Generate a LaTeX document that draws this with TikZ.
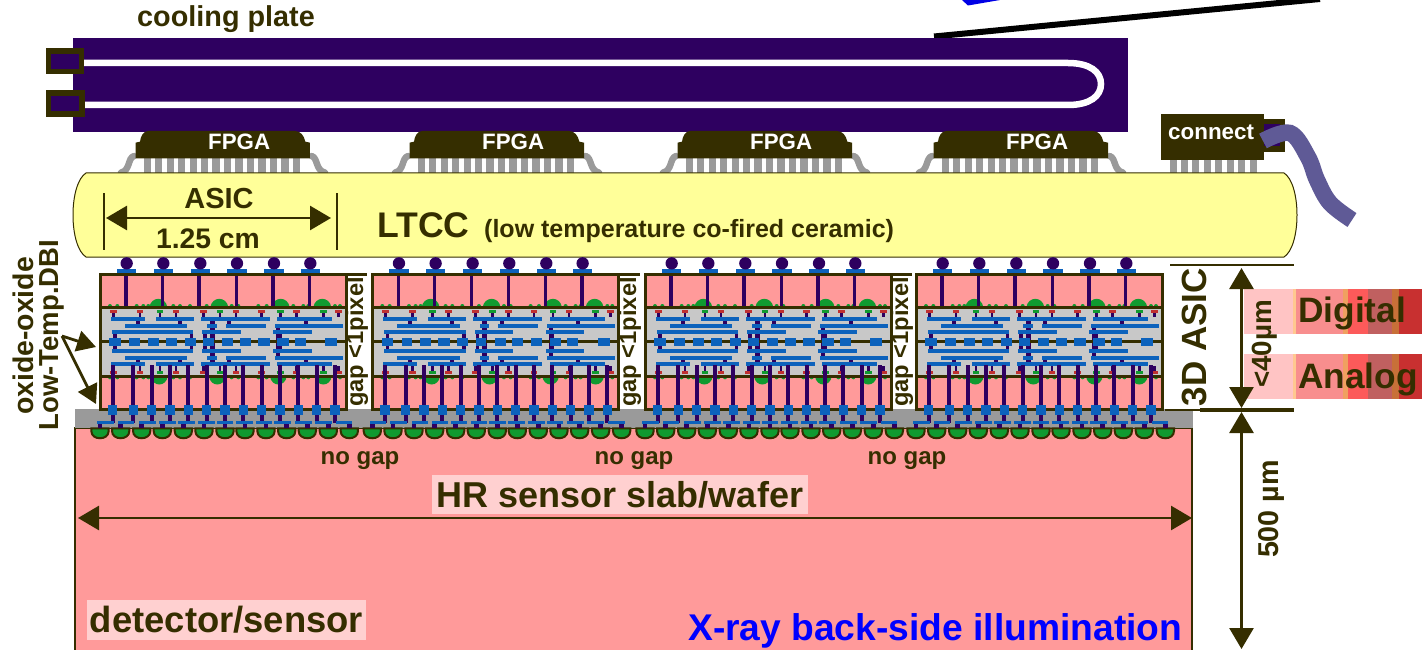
\documentclass[tikz,border=0pt]{standalone}
\usepackage{fontspec}
\setmainfont{Liberation Sans}[BoldFont={Liberation Sans Bold}]
\usetikzlibrary{arrows.meta}
\definecolor{olive}{HTML}{352E00}
\definecolor{plum}{HTML}{2E0060}
\definecolor{metal}{HTML}{0C62BC}
\definecolor{pinkk}{HTML}{FF9A9A}
\definecolor{sil}{HTML}{C8C8C8}
\definecolor{oxgrey}{HTML}{9A9A9A}
\definecolor{bump}{HTML}{109A30}
\definecolor{capred}{HTML}{C03030}
\definecolor{ltcc}{HTML}{FFFF99}
\definecolor{cable}{HTML}{5F5A96}
\definecolor{palepink}{HTML}{FFD0D0}
\tikzset{
  lbl/.style={inner sep=0pt,font=\bfseries\fontsize{#1}{#1}\selectfont,text=olive},
  dimline/.style={draw=olive,line width=2.8pt},
  bigdim/.style={dimline,{Triangle[length=21pt,width=24pt]}-{Triangle[length=21pt,width=24pt]}},
  lead/.style={fill=oxgrey},
  gull/.style={draw=oxgrey,line width=6.5pt,line cap=round},
  via/.style={draw=plum,line width=3.4pt},
  lowvia/.style={draw=plum,line width=4.2pt},
  chipline/.style={draw=olive,line width=3pt},
  fpgabody/.style={fill=olive},
}
% one 3D ASIC tile, drawn in units of the 3x zoom (origin 90,250)
\newcommand{\asictile}[1]{%
\begin{scope}[shift={(90+#1,250)},x=0.33333pt,y=-0.33333pt]
  \fill[pinkk] (30,72) rectangle (770,172);
  \fill[sil] (30,172) rectangle (770,378);
  \fill[pinkk] (30,378) rectangle (770,478);
  % upper bond bumps
  \foreach \x in {205,388,572,697} {
    \fill[bump] (\x-27,172) .. controls (\x-22,138) and (\x+22,138) .. (\x+27,172) -- cycle;
  }
  \foreach \x in {208,382,565,700} {
    \fill[bump] (\x-25,378) .. controls (\x-22,412) and (\x+22,412) .. (\x+25,378) -- cycle;
  }
  \foreach \x in {60,82,140,160,175,250,270,300,350,425,445,505,530,610,640,655,735,750} {
    \fill[bump] (\x,168) circle (6);
    \fill[bump] (\x,382) circle (6);
  }
  % top vias, pads, balls
  \foreach \x in {108,217,327,439,549,659} \draw[via] (\x,72) -- (\x,172);
  \foreach \x in {110,220,331,441,552,661} {
    \fill[metal] (\x-29,57) rectangle (\x+29,76);
    \fill[plum] (\x,40) circle (18.5);
  }
  % caps
  \foreach \x/\c in {70/capred,150/capred,210/bump,258/capred,340/capred,390/bump,438/capred,515/capred,572/bump,620/capred,700/bump,745/capred} {
    \fill[plum] (\x-4,188) rectangle (\x+4,202);
    \fill[\c] (\x-10,180) rectangle (\x+10,189);
    \fill[plum] (\x-4,349) rectangle (\x+4,362);
    \fill[\c] (\x-10,362) rectangle (\x+10,371);
  }
  % inner vias
  \foreach \x in {143,270,418,648} {
    \fill[plum] (\x-6,207) rectangle (\x+6,228);
    \fill[plum] (\x-6,323) rectangle (\x+6,343);
  }
  \fill[plum] (360,207) rectangle (374,343);
  \fill[plum] (559,228) rectangle (571,323);
  \foreach \x in {75,305,345,570} {
    \fill[plum] (\x-5,246) rectangle (\x+5,302);
  }
  \draw[chipline] (30,275) -- (770,275);
  % metal bars
  \foreach \a/\b/\y in {62/165/207,198/312/207,333/540/207,562/727/207,
                        105/292/228,352/380/228,408/528/228,555/758/228,
                        65/310/246,337/452/246,550/665/246,
                        65/310/302,337/452/302,550/665/302,
                        105/292/323,352/380/323,408/528/323,555/758/323,
                        62/165/343,198/312/343,333/540/343,562/727/343}
    \fill[metal] (\a,\y-6) rectangle (\b,\y+6);
  \foreach \a/\b in {58/92,118/150,173/207,227/262,285/317,340/372,397/430,450/483,505/540,562/597,614/647,706/742}
    \fill[metal] (\a,264) rectangle (\b,287);
  % outline
  \draw[chipline] (30,72) rectangle (770,478);
  \draw[chipline] (30,172) -- (770,172);
  \draw[chipline] (30,378) -- (770,378);
  % long lower vias
  \foreach \x in {68,130,185,240,295,350,405,460,515,570,625,680,735} {
    \draw[lowvia] (\x,345) -- (\x,470);
    \fill[plum] (\x-6,495) rectangle (\x+6,518);
    \fill[metal] (\x-14,464) rectangle (\x+14,496);
  }
  % T bars and sensor bumps
  \foreach \x/\a/\b in {30/22/72,92/83/133,155/148/198,217/208/258,280/265/315,342/325/375,405/380/430,465/437/488,528/497/547,590/553/603,652/615/665,715/675/725,778/737/787} {
    \fill[bump,draw=olive,line width=2pt] (\x-26,535) -- (\x+26,535) -- (\x+26,543)
      .. controls (\x+26,572) and (\x-26,572) .. (\x-26,543) -- cycle;
    \fill[plum] (\x-7,522) rectangle (\x+7,535);
    \fill[metal] (\a,513) rectangle (\b,523);
  }
\end{scope}}
% FPGA package, drawn in units of the 3x zoom (origin 40,30)
\newcommand{\fpgapack}[1]{%
\begin{scope}[shift={(40+#1,30)},x=0.33333pt,y=-0.33333pt]
  \draw[gull] (282,378) .. controls (262,385) and (272,420) .. (243,428);
  \draw[gull] (815,378) .. controls (835,385) and (825,420) .. (855,428);
  \foreach \i in {0,...,13} \fill[lead] (311+34.4*\i,368) rectangle (333+34.4*\i,432);
  \fill[fpgabody] (287,385) -- (810,385) -- (810,338) -- (796,335) .. controls (792,315) and (780,303) .. (765,303)
     -- (325,303) .. controls (310,303) and (302,318) .. (300,335) -- (287,338) -- cycle;
\end{scope}}
\begin{document}
\begin{tikzpicture}[x=1pt,y=-1pt]
\useasboundingbox (0,0) rectangle (1422,650);
\clip (0,0) rectangle (1422,650);
% top-right fragments
\fill[blue!90!black] (962,0) -- (1000,0) -- (968,5.5) -- cycle;
\coordinate (lineA) at (934,36.5);
\coordinate (lineB) at (1320,-1);
\draw[black,line width=6pt] (lineA) -- (lineB);
% cooling plate
\fill[plum] (73,38) rectangle (1128,132);
\coordinate (chanA) at (84,63);
\coordinate (chanB) at (84,105);
\draw[white,line width=6.5pt] (chanA) -- (1068,63) .. controls (1090,63) and (1101,72) .. (1101,84)
   .. controls (1101,96) and (1090,105) .. (1068,105) -- (chanB);
\draw[olive,line width=5.5pt,fill=plum] (48.5,50.8) rectangle (81.5,71.5);
\draw[olive,line width=5.5pt,fill=plum] (48.5,93.2) rectangle (82,114.2);
\node[lbl=28.8,anchor=base west] (coolingtxt) at (137,27) {cooling plate};
% FPGAs
\fpgapack{0}\fpgapack{274}\fpgapack{542}\fpgapack{798}
\foreach \n/\x in {a/208,b/482,c/750,d/1006}
  \node[inner sep=0pt,anchor=base west,text=white,font=\bfseries\fontsize{22.3}{22.3}\selectfont] (fpga\n) at (\x,149.5) {FPGA};
% connector
\foreach \i in {0,...,7} \fill[lead] (1169.5+11.45*\i,158) rectangle (1176.5+11.45*\i,174);
\draw[olive,line width=5.5pt,fill=plum] (1260,121.5) rectangle (1282.5,149);
\fill[olive] (1161,114) rectangle (1264,160);
\node[inner sep=0pt,anchor=base west,text=white,font=\bfseries\fontsize{22.4}{22.4}\selectfont] (connecttxt) at (1168,140) {connect};
\draw[cable,line width=16.5pt] plot[smooth,tension=0.6] coordinates {(1263,141) (1290,133) (1308,157) (1317,180) (1330,203) (1352,220)};
% LTCC
\draw[olive,line width=1pt,fill=ltcc] (86,173) -- (1284,173) .. controls (1292,178) and (1297,195) .. (1297,215)
   .. controls (1297,235) and (1292,252) .. (1284,257) -- (86,257)
   .. controls (78,252) and (73,235) .. (73,215) .. controls (73,195) and (78,178) .. (86,173) -- cycle;
\node[lbl=29,anchor=base] (asictxt) at (219,208) {ASIC};
\node[lbl=28.3,anchor=base] (sizetxt) at (208,248) {1.25 cm};
\node[lbl=35.6,anchor=base west] (ltcctxt) at (377,237) {LTCC};
\node[lbl=25,anchor=base west] (ltccfull) at (484,237) {(low temperature co-fired ceramic)};
\coordinate (tickLa) at (104,193); \coordinate (tickLb) at (104,250);
\coordinate (tickRa) at (337,193); \coordinate (tickRb) at (337,250);
\draw[dimline,line width=1.8pt] (tickLa) -- (tickLb);
\draw[dimline,line width=1.8pt] (tickRa) -- (tickRb);
\coordinate (asL2) at (106,218); \coordinate (asR2) at (331,218);
\draw[bigdim] (asL2) -- (asR2);
% sensor
\fill[pinkk] (75,428) rectangle (1192,650);
\draw[olive,line width=2pt] (75,650) -- (75,428) -- (1192,428) -- (1192,650);
\fill[oxgrey] (75,409) rectangle (1193,428);
\asictile{0}\asictile{272.3}\asictile{545}\asictile{816}
% gap labels
\foreach \n/\x/\lx in {a/347/367,b/620/640,c/892/912} {
  \draw[chipline] (\x-3,274) -- (\lx,274);
  \node[lbl=23.7,rotate=90,anchor=base] (gap\n) at (\x+16,342) {gap <1pixel};
}
\foreach \n/\x in {a/360,b/634,c/907}
  \node[lbl=24,anchor=base] (nogap\n) at (\x,464) {no gap};
\node[lbl=36,fill=palepink,minimum width=376pt,minimum height=39pt,anchor=center] (hrtxt) at (620,494.5) {HR sensor slab/wafer};
\coordinate (hrL) at (78,518); \coordinate (hrR) at (1192,518);
\draw[bigdim] (hrL) -- (hrR);
\node[lbl=36.4,fill=palepink,minimum width=279pt,minimum height=40pt,anchor=center] (dettxt) at (226.5,620) {detector/sensor};
\node[inner sep=0pt,anchor=base west,text=blue,font=\bfseries\fontsize{37.2}{37.2}\selectfont] (xraytxt) at (688,640) {X-ray back-side illumination};
% left labels
\node[lbl=28.4,rotate=90,anchor=base] (oxtxt) at (34,336) {oxide-oxide};
\node[lbl=27.5,rotate=90,anchor=base] (dbitxt) at (58,335) {Low-Temp.DBI};
\coordinate (apex) at (62,336);
\coordinate (tipA) at (96,347);
\coordinate (tipB) at (96,404);
\draw[dimline,-{Triangle[length=19pt,width=21pt]}] (apex) -- (tipA);
\draw[dimline,-{Triangle[length=19pt,width=21pt]}] (apex) -- (tipB);
% right bands
\foreach \y in {289,354}
  \foreach \a/\b/\c in {1243.5/1293/FFC4C4,1293/1296/FFC890,1296/1343/F88E8E,1343/1348/F0A060,1348/1368/FC5A5A,1368/1392/C06060,1392/1399/C87038,1399/1422/C83030} {
    \definecolor{bandc}{HTML}{\c}
    \fill[bandc] (\a,\y) rectangle (\b,\y+45);
  }
\node[lbl=35.3,anchor=base west] (digtxt) at (1298,322) {Digital};
\node[lbl=35.3,anchor=base west] (anatxt) at (1298,388) {Analog};
\node[lbl=35,rotate=90,anchor=base] (asic3d) at (1206,337) {3D ASIC};
\node[lbl=27.8,rotate=90,anchor=base] (umtxt) at (1271,344) {<40µm};
\node[lbl=28.7,rotate=90,anchor=base] (fivehtxt) at (1278,509) {500 µm};
\coordinate (hA) at (1170,265); \coordinate (hB) at (1294,265);
\coordinate (hC) at (1165,410); \coordinate (hD) at (1200,410); \coordinate (hE) at (1294,410);
\draw[dimline] (hA) -- (hB);
\draw[dimline] (hC) -- (hD);
\draw[dimline,line width=4.5pt] (hD) -- (hE);
\coordinate (d1) at (1241.5,268); \coordinate (d2) at (1241.5,408);
\coordinate (d3) at (1241.5,412); \coordinate (d4) at (1241.5,649);
\draw[bigdim] (d1) -- (d2);
\draw[bigdim] (d3) -- (d4);
\end{tikzpicture}
\end{document}
